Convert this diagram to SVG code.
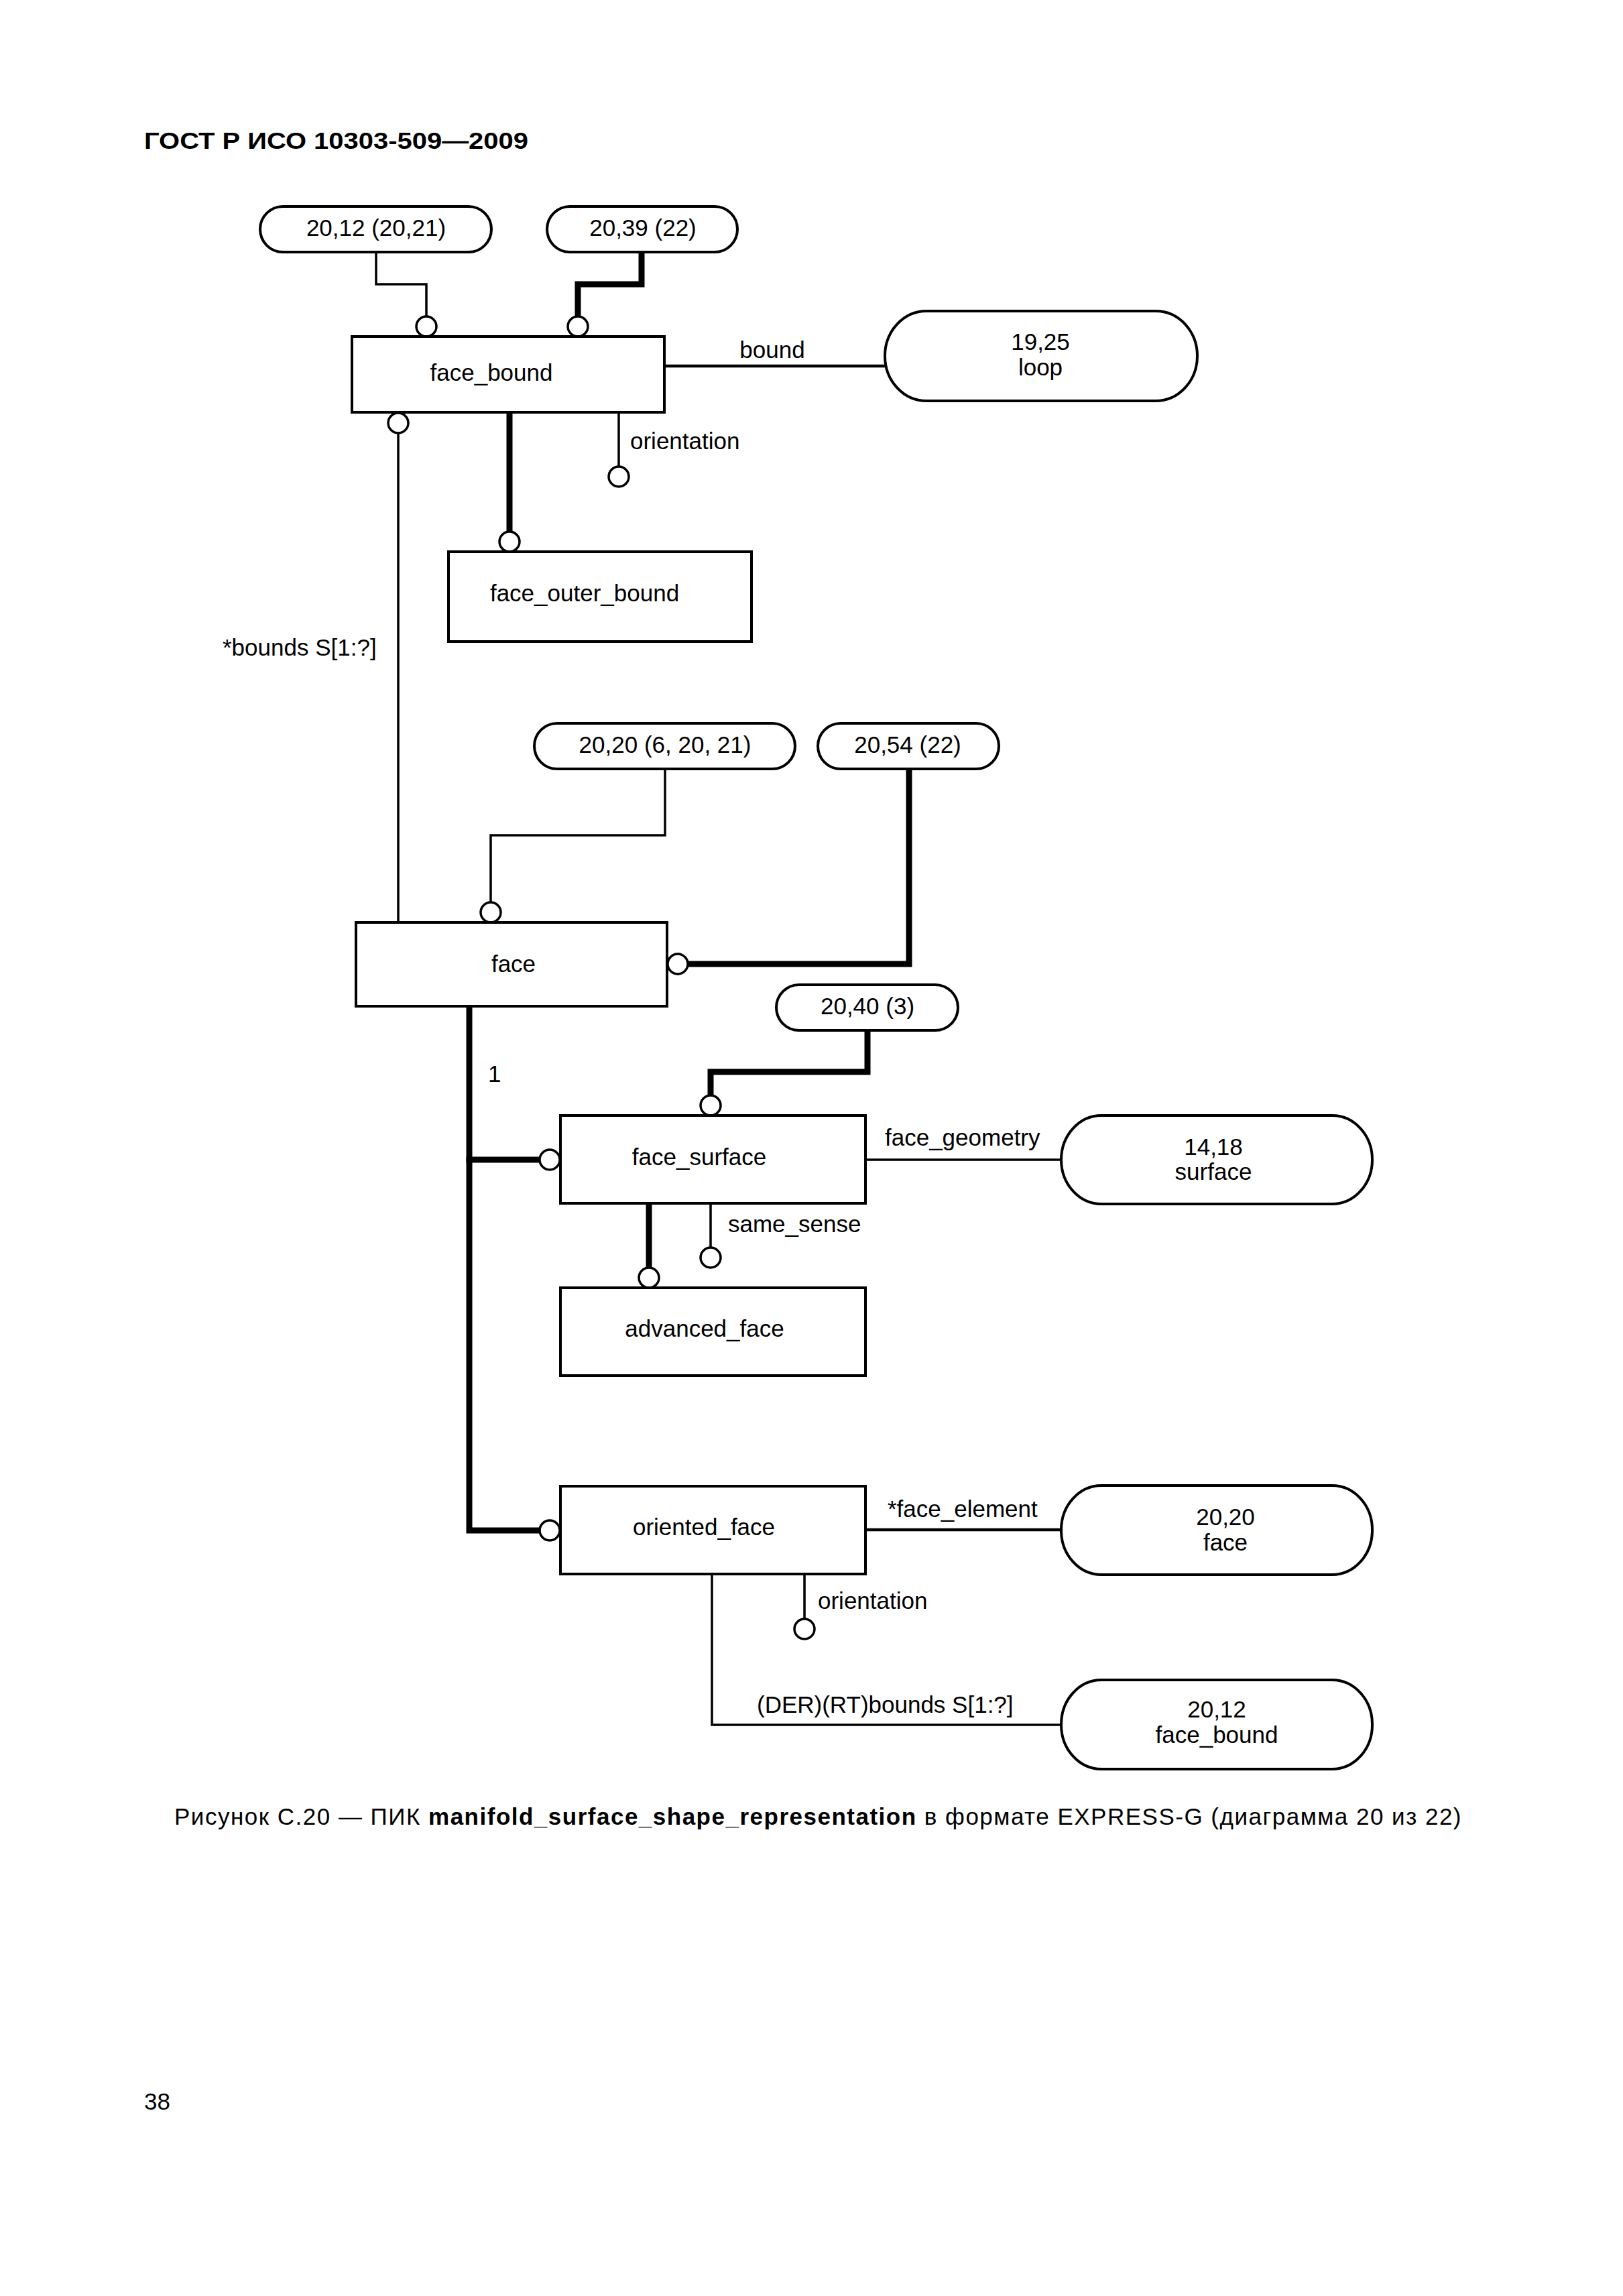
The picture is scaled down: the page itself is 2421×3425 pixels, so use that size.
<svg xmlns="http://www.w3.org/2000/svg" width="2421" height="3425" viewBox="0 0 2421 3425">
<style>
.t{font-family:"Liberation Sans",Arial,Helvetica,sans-serif;font-size:35px;fill:#000}
.m{text-anchor:middle}
.b{font-weight:bold}
.box{fill:#fff;stroke:#000;stroke-width:4}
.pill{fill:#fff;stroke:#000;stroke-width:4}
.thin{fill:none;stroke:#000;stroke-width:3.5;stroke-linejoin:miter}
.rel{fill:none;stroke:#000;stroke-width:4.5}
.thick{fill:none;stroke:#000;stroke-width:9;stroke-linejoin:miter;stroke-linecap:square}
.c{fill:#fff;stroke:#000;stroke-width:3.5}
</style>
<rect width="2421" height="3425" fill="#fff"/>
<text class="t b" x="215" y="222" font-size="42" textLength="573" lengthAdjust="spacingAndGlyphs">ГОСТ Р ИСО 10303-509—2009</text>

<g id="connectors">
<path class="thin" d="M561 376 V424 H636 V472"/>
<path class="thick" d="M957 380 V424 H862 V470"/>
<path class="rel" d="M991 546 H1320"/>
<path class="thin" d="M594 646 V1376"/>
<path class="thick" d="M760 619 V792"/>
<path class="thin" d="M923 615 V696"/>
<path class="thin" d="M992 1147 V1246 H732 V1346"/>
<path class="thick" d="M1356 1151 V1438 H1026"/>
<path class="thick" d="M700 1505 V2283 H803"/>
<path class="thick" d="M700 1730 H803"/>
<path class="thick" d="M1294 1541 V1599 H1060 V1633"/>
<path class="thin" d="M1291 1730 H1583"/>
<path class="thick" d="M968 1799 V1890"/>
<path class="thin" d="M1060 1795 V1861"/>
<path class="rel" d="M1291 2282 H1583"/>
<path class="thin" d="M1200 2348 V2415"/>
<path class="thin" d="M1062 2348 V2573 H1583"/>
<circle class="c" cx="636" cy="487" r="15"/>
<circle class="c" cx="862" cy="487" r="15"/>
<circle class="c" cx="594" cy="631" r="15"/>
<circle class="c" cx="923" cy="711" r="15"/>
<circle class="c" cx="760" cy="808" r="15"/>
<circle class="c" cx="732" cy="1361" r="15"/>
<circle class="c" cx="1011" cy="1438" r="15"/>
<circle class="c" cx="1060" cy="1649" r="15"/>
<circle class="c" cx="820" cy="1730" r="15"/>
<circle class="c" cx="968" cy="1906" r="15"/>
<circle class="c" cx="1060" cy="1876" r="15"/>
<circle class="c" cx="820" cy="2283" r="15"/>
<circle class="c" cx="1200" cy="2430" r="15"/>
</g>

<g id="labels">
<text class="t m" x="1152" y="534">bound</text>
<text class="t" x="940" y="670">orientation</text>
<text class="t" x="332" y="978">*bounds S[1:?]</text>
<text class="t" x="728" y="1614">1</text>
<text class="t" x="1320" y="1709">face_geometry</text>
<text class="t" x="1086" y="1838">same_sense</text>
<text class="t" x="1324" y="2263">*face_element</text>
<text class="t" x="1220" y="2400">orientation</text>
<text class="t" x="1129" y="2555">(DER)(RT)bounds S[1:?]</text>
</g>

<g id="ref_20_12_20_21">
<rect class="pill" x="388" y="308" width="345" height="68" rx="34" ry="34"/>
<text class="t m" x="561" y="352">20,12 (20,21)</text>
</g>
<g id="ref_20_39_22">
<rect class="pill" x="816" y="308" width="284" height="68" rx="34" ry="34"/>
<text class="t m" x="959" y="352">20,39 (22)</text>
</g>
<g id="face_bound">
<rect class="box" x="525" y="502" width="466" height="113"/>
<text class="t m" x="733" y="568">face_bound</text>
</g>
<g id="loop">
<rect class="pill" x="1320" y="464" width="466" height="134" rx="62" ry="67"/>
<text class="t m" x="1552" y="522">19,25</text>
<text class="t m" x="1552" y="560">loop</text>
</g>
<g id="face_outer_bound">
<rect class="box" x="669" y="823" width="452" height="134"/>
<text class="t m" x="872" y="897">face_outer_bound</text>
</g>
<g id="ref_20_20_6_20_21">
<rect class="pill" x="797" y="1079" width="389" height="68" rx="34" ry="34"/>
<text class="t m" x="992" y="1123">20,20 (6, 20, 21)</text>
</g>
<g id="ref_20_54_22">
<rect class="pill" x="1220" y="1079" width="270" height="68" rx="34" ry="34"/>
<text class="t m" x="1354" y="1123">20,54 (22)</text>
</g>
<g id="face">
<rect class="box" x="531" y="1376" width="464" height="125"/>
<text class="t m" x="766" y="1450">face</text>
</g>
<g id="ref_20_40_3">
<rect class="pill" x="1158" y="1469" width="271" height="68" rx="34" ry="34"/>
<text class="t m" x="1294" y="1513">20,40 (3)</text>
</g>
<g id="face_surface">
<rect class="box" x="836" y="1664" width="455" height="131"/>
<text class="t m" x="1043" y="1738">face_surface</text>
</g>
<g id="surface">
<rect class="pill" x="1583" y="1664" width="464" height="132" rx="60" ry="66"/>
<text class="t m" x="1810" y="1723">14,18</text>
<text class="t m" x="1810" y="1760">surface</text>
</g>
<g id="advanced_face">
<rect class="box" x="836" y="1921" width="455" height="131"/>
<text class="t m" x="1051" y="1994">advanced_face</text>
</g>
<g id="oriented_face">
<rect class="box" x="836" y="2217" width="455" height="131"/>
<text class="t m" x="1050" y="2290">oriented_face</text>
</g>
<g id="ref_face">
<rect class="pill" x="1583" y="2216" width="464" height="133" rx="60" ry="66"/>
<text class="t m" x="1828" y="2275">20,20</text>
<text class="t m" x="1828" y="2313">face</text>
</g>
<g id="ref_face_bound">
<rect class="pill" x="1583" y="2506" width="464" height="133" rx="60" ry="66"/>
<text class="t m" x="1815" y="2562">20,12</text>
<text class="t m" x="1815" y="2600">face_bound</text>
</g>

<text class="t" x="260" y="2722" letter-spacing="1.5">Рисунок С.20 — ПИК <tspan class="b">manifold_surface_shape_representation</tspan> в формате EXPRESS-G (диаграмма 20 из 22)</text>
<text class="t" x="215" y="3147">38</text>
</svg>
